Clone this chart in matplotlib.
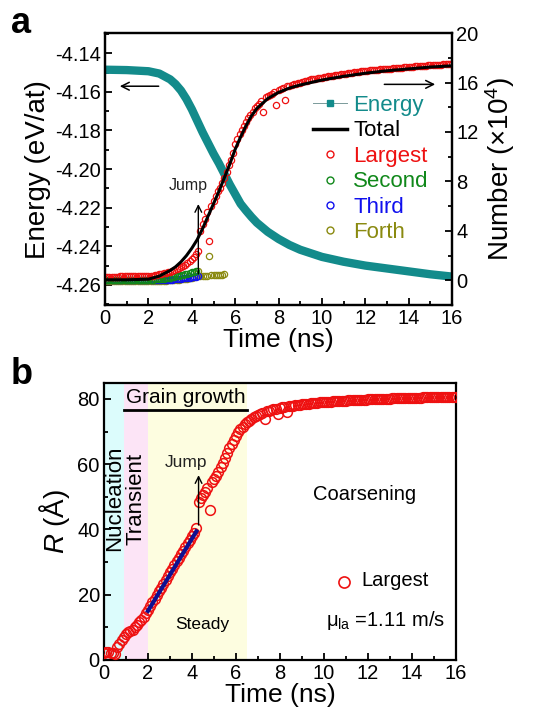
import numpy as np
import matplotlib
matplotlib.use('Agg')
import matplotlib.pyplot as plt
from matplotlib.lines import Line2D

plt.rcParams['font.family'] = ['Liberation Sans', 'DejaVu Sans']
plt.rcParams['mathtext.fontset'] = 'custom'
plt.rcParams['mathtext.rm'] = 'Liberation Sans'
plt.rcParams['mathtext.it'] = 'Liberation Sans:italic'

# ---------------- panel a data ----------------
# energy (eV/at), left axis
t_energy = [0, 1, 2, 2.5, 3, 3.25, 3.5, 3.75, 4, 4.25, 4.5, 4.75, 5, 5.25, 5.5, 5.75,
            6, 6.25, 6.5, 6.75, 7, 7.5, 8, 8.5, 9, 10, 11, 12, 13, 14, 15, 16]
energy = [-4.1485, -4.1487, -4.1493, -4.1505, -4.1535, -4.1560, -4.1593, -4.1637,
          -4.1690, -4.1750, -4.1810, -4.1865, -4.1920, -4.1970, -4.2025, -4.2080,
          -4.2130, -4.2180, -4.2215, -4.2248, -4.2278, -4.2325, -4.2362, -4.2393,
          -4.2418, -4.2455, -4.2480, -4.2500, -4.2515, -4.2530, -4.2545, -4.2557]

# total number of crystalline atoms (x1e4), right axis
t_total = [0, 1, 2, 2.5, 3, 3.25, 3.5, 3.75, 4, 4.25, 4.5, 4.75, 5, 5.25, 5.5, 5.75,
           6, 6.25, 6.5, 6.75, 7, 7.5, 8, 8.5, 9, 10, 11, 12, 13, 14, 15, 16]
total = [0.05, 0.05, 0.1, 0.35, 0.8, 1.1, 1.5, 2.0, 2.6, 3.3, 4.2, 5.2, 6.2, 7.2, 8.3,
         9.4, 10.6, 11.6, 12.5, 13.3, 13.9, 14.7, 15.2, 15.55, 15.8, 16.2, 16.5,
         16.75, 16.95, 17.1, 17.25, 17.35]

# largest grain (x1e4), sampled every 0.1 ns from 0 to 16 ns
t_grid = np.round(np.arange(0, 16.05, 0.1), 1)
largest_n = [
    0.30, 0.30, 0.30, 0.30, 0.31, 0.31, 0.31, 0.32, 0.32, 0.32,   # 0.0-0.9
    0.33, 0.33, 0.33, 0.33, 0.34, 0.34, 0.34, 0.34, 0.35, 0.35,   # 1.0-1.9
    0.35, 0.37, 0.39, 0.42, 0.45, 0.48, 0.52, 0.56, 0.61, 0.66,   # 2.0-2.9
    0.72, 0.78, 0.85, 0.92, 1.00, 1.08, 1.17, 1.27, 1.40, 1.55,   # 3.0-3.9
    1.70, 1.90, 2.10, 2.35, 4.00, 4.60, 5.00, 5.50, 3.20, 6.00,   # 4.0-4.9
    6.40, 6.80, 7.20, 7.50, 7.90, 8.30, 8.80, 9.30, 9.70, 10.3,   # 5.0-5.9
    11.0, 11.4, 11.8, 12.2, 12.5, 12.8, 13.1, 13.4, 13.6, 13.9,   # 6.0-6.9
    14.1, 14.3, 14.5, 13.6, 14.8, 14.9, 15.0, 15.1, 15.2, 14.2,   # 7.0-7.9
    15.4, 15.5, 15.55, 14.6, 15.7, 15.75, 15.8, 15.85, 15.9, 15.95,  # 8.0-8.9
    16.0, 16.05, 16.1, 16.15, 16.2, 16.25, 16.28, 16.32, 16.36, 16.4,  # 9.0-9.9
    16.4, 16.43, 16.46, 16.49, 16.52, 16.55, 16.58, 16.61, 16.64, 16.67,  # 10-10.9
    16.7, 16.72, 16.75, 16.77, 16.8, 16.82, 16.85, 16.87, 16.9, 16.92,  # 11-11.9
    16.95, 16.97, 16.98, 17.0, 17.02, 17.03, 17.05, 17.06, 17.08, 17.09,  # 12-12.9
    17.1, 17.12, 17.13, 17.15, 17.16, 17.18, 17.19, 17.21, 17.22, 17.24,  # 13-13.9
    17.25, 17.27, 17.28, 17.3, 17.31, 17.33, 17.34, 17.35, 17.37, 17.38,  # 14-14.9
    17.4, 17.41, 17.42, 17.43, 17.44, 17.45, 17.46, 17.47, 17.48, 17.49,  # 15-15.9
    17.5]

t_second = t_grid[:43]
second_n = [0.05] * 20 + [0.05, 0.06, 0.07, 0.08, 0.09, 0.10, 0.12, 0.14, 0.16, 0.19,
                          0.22, 0.25, 0.28, 0.32, 0.36, 0.40, 0.44, 0.49, 0.54, 0.60,
                          0.66, 0.72, 0.80]
t_third = t_grid[:44]
third_n = [0.0] * 25 + [0.01, 0.02, 0.03, 0.04, 0.05, 0.06, 0.07, 0.08, 0.10, 0.12,
                        0.14, 0.16, 0.18, 0.20, 0.22, 0.24, 0.27, 0.30, 0.35]
t_forth = list(t_grid[:44]) + [4.4, 4.5, 4.6, 4.7, 4.8, 4.9, 5.0, 5.1, 5.2, 5.3, 5.4, 5.5]
forth_n = [-0.05] * 25 + [-0.04, -0.03, -0.02, -0.01, 0.0, 0.01, 0.02, 0.03, 0.05, 0.07,
                          0.09, 0.11, 0.13, 0.15, 0.17, 0.2, 0.25, 0.5, 0.75] + \
          [0.35, 0.37, 0.38, 0.39, 2.0, 0.4, 0.41, 0.42, 0.44, 0.45, 0.47, 0.5]

# ---------------- panel b data ----------------
radius = [
    2.0, 2.3, 2.5, 2.2, 2.0, 1.8, 4.0, 5.0, 6.0, 7.0,             # 0.0-0.9
    7.8, 8.5, 8.8, 9.3, 10.0, 10.8, 11.5, 12.3, 13.2, 14.3,       # 1.0-1.9
    15.3, 16.5, 17.6, 18.7, 19.9, 21.0, 22.1, 23.3, 24.5, 25.6,   # 2.0-2.9
    26.8, 27.9, 29.0, 30.2, 31.3, 32.4, 33.5, 34.6, 35.7, 36.8,   # 3.0-3.9
    37.9, 39.0, 40.3, 48.5, 49.5, 50.5, 51.5, 52.8, 46.0, 54.5,   # 4.0-4.9
    55.5, 56.5, 57.6, 59.0, 60.5, 62.0, 63.5, 65.0, 66.2, 67.5,   # 5.0-5.9
    68.8, 69.8, 70.7, 71.5, 72.2, 72.8, 73.4, 73.9, 74.4, 74.8,   # 6.0-6.9
    75.2, 75.5, 75.8, 74.0, 76.2, 76.4, 76.6, 76.8, 77.0, 75.5,   # 7.0-7.9
    77.3, 77.4, 77.6, 76.0, 77.8, 77.9, 78.0, 78.1, 78.2, 78.3,   # 8.0-8.9
    78.4, 78.5, 78.5, 78.6, 78.7, 78.8, 78.8, 78.9, 79.0, 79.0,   # 9.0-9.9
    79.1, 79.1, 79.2, 79.2, 79.3, 79.3, 79.4, 79.4, 79.5, 79.5,   # 10-10.9
    79.5, 79.6, 79.6, 79.6, 79.7, 79.7, 79.7, 79.8, 79.8, 79.8,   # 11-11.9
    79.9, 79.9, 79.9, 80.0, 80.0, 80.0, 80.0, 80.1, 80.1, 80.1,   # 12-12.9
    80.1, 80.2, 80.2, 80.2, 80.2, 80.3, 80.3, 80.3, 80.3, 80.3,   # 13-13.9
    80.4, 80.4, 80.4, 80.4, 80.4, 80.5, 80.5, 80.5, 80.5, 80.5,   # 14-14.9
    80.5, 80.6, 80.6, 80.6, 80.6, 80.6, 80.6, 80.7, 80.7, 80.7,   # 15-15.9
    80.7]
fit_t = [2.0, 4.2]
fit_r = [15.0, 39.4]

teal = '#138b8b'
spine_w = 1.6
tick_fs = 14.5

fig = plt.figure(figsize=(5.56, 7.18), dpi=100)


def style_ax(ax, right=False):
    for s in ax.spines.values():
        s.set_linewidth(spine_w)
    ax.tick_params(which='both', direction='in', width=1.3, labelsize=tick_fs,
                   top=False, right=right, pad=3)
    ax.tick_params(which='major', length=5)
    ax.tick_params(which='minor', length=3)


# ================= panel a =================
ax1 = fig.add_axes([0.189, 0.575, 0.624, 0.379])
ax1.plot(t_energy, energy, color=teal, lw=6, solid_capstyle='butt')
ax1.set_xlim(0, 16)
ax1.set_ylim(-4.2705, -4.1295)
ax1.set_yticks([-4.14, -4.16, -4.18, -4.20, -4.22, -4.24, -4.26])
ax1.set_yticklabels(['-4.14', '-4.16', '-4.18', '-4.20', '-4.22', '-4.24', '-4.26'])
ax1.set_yticks(np.arange(-4.27, -4.129, 0.01), minor=True)
ax1.set_xticks(range(0, 17, 2))
ax1.set_xticks(range(0, 17), minor=True)
ax1.set_xlabel('Time (ns)', fontsize=19, labelpad=0)
ax1.set_ylabel('Energy (eV/at)', fontsize=20, labelpad=3)
style_ax(ax1)
ax1.tick_params(axis='y', which='both', right=False)

ax2 = ax1.twinx()
ax2.plot(t_forth, forth_n, 'o', mfc='none', mec='#8a8a10', ms=4.5, mew=0.9)
ax2.plot(t_third, third_n, 'o', mfc='none', mec='#1010ee', ms=4.5, mew=0.9)
ax2.plot(t_second, second_n, 'o', mfc='none', mec='#10881a', ms=4.5, mew=0.9)
ax2.plot(t_grid, largest_n, 'o', mfc='none', mec='#ee1111', ms=4.5, mew=0.9)
ax2.plot(t_total, total, color='black', lw=2.2)
ax2.set_ylim(-2, 20)
ax2.set_yticks(range(0, 21, 4))
ax2.set_yticks(range(-2, 21, 2), minor=True)
ax2.set_ylabel('Number (×10$^4$)', fontsize=20, labelpad=3)
style_ax(ax2, right=True)
ax2.tick_params(axis='y', which='both', left=False, right=True)

# direction arrows
ax2.annotate('', xy=(0.55, 15.7), xytext=(2.6, 15.7),
             arrowprops=dict(arrowstyle='->', lw=1.1, color='black', mutation_scale=14))
ax2.annotate('', xy=(15.35, 15.85), xytext=(12.75, 15.85),
             arrowprops=dict(arrowstyle='->', lw=1.1, color='black', mutation_scale=14))
ax2.annotate('', xy=(4.3, 6.4), xytext=(4.3, 0.3),
             arrowprops=dict(arrowstyle='->', lw=1.0, color='black', mutation_scale=12))
ax2.text(3.85, 7.7, 'Jump', fontsize=11.5, ha='center', va='center', color='#222222')

handles = [
    Line2D([], [], color='#7a9a9a', lw=0.7, marker='s', ms=4, mfc=teal, mec=teal),
    Line2D([], [], color='black', lw=2.5),
    Line2D([], [], ls='none', marker='o', mfc='none', mec='#ee1111', ms=5),
    Line2D([], [], ls='none', marker='o', mfc='none', mec='#10881a', ms=5),
    Line2D([], [], ls='none', marker='o', mfc='none', mec='#1010ee', ms=5),
    Line2D([], [], ls='none', marker='o', mfc='none', mec='#8a8a10', ms=5),
]
labels = ['Energy', 'Total', 'Largest', 'Second', 'Third', 'Forth']
ax2.legend(handles, labels, loc='upper left', bbox_to_anchor=(0.575, 0.805),
           frameon=False, fontsize=16, handlelength=1.5, handletextpad=0.3,
           labelspacing=0.2, borderaxespad=0,
           labelcolor=[teal, 'black', '#ee1111', '#10881a', '#1010ee', '#8a8a10'])

fig.text(0.02, 0.967, 'a', fontsize=26, fontweight='bold', va='center')

# ================= panel b =================
ax3 = fig.add_axes([0.187, 0.081, 0.633, 0.386])
ax3.axvspan(0, 0.9, color='#dcfcfc', lw=0)
ax3.axvspan(0.9, 2.0, color='#fce4f6', lw=0)
ax3.axvspan(2.0, 6.5, color='#fdfde0', lw=0)
ax3.plot(t_grid, radius, 'o', mfc='none', mec='#ee1111', ms=7, mew=1.1, zorder=3)
ax3.plot(fit_t, fit_r, color='#101090', lw=3, zorder=4)
ax3.set_xlim(0, 16)
ax3.set_ylim(0, 85)
ax3.set_xticks(range(0, 17, 2))
ax3.set_xticks(range(0, 17), minor=True)
ax3.set_yticks(range(0, 81, 20))
ax3.set_yticks(range(0, 81, 10), minor=True)
ax3.set_xlabel('Time (ns)', fontsize=19, labelpad=0)
ax3.set_ylabel('$R$ (Å)', fontsize=20, labelpad=4)
style_ax(ax3)

ax3.plot([0.9, 6.48], [76.7, 76.7], color='black', lw=2)
ax3.text(3.7, 80.4, 'Grain growth', fontsize=15, ha='center', va='center')
ax3.text(0.48, 49.5, 'Nucleation', fontsize=16, rotation=90, ha='center', va='center')
ax3.text(1.47, 49.5, 'Transient', fontsize=16, rotation=90, ha='center', va='center')
ax3.text(4.45, 10.9, 'Steady', fontsize=12.5, ha='center', va='center')
ax3.text(11.85, 50.6, 'Coarsening', fontsize=14.5, ha='center', va='center')
ax3.annotate('', xy=(4.3, 57.5), xytext=(4.3, 40.5),
             arrowprops=dict(arrowstyle='->', lw=1.0, color='black', mutation_scale=12))
ax3.text(3.75, 60.5, 'Jump', fontsize=12.5, ha='center', va='center', color='#222222')
ax3.plot([10.9], [23.9], 'o', mfc='none', mec='#ee1111', ms=8, mew=1.2)
ax3.text(11.7, 24.2, 'Largest', fontsize=14.5, ha='left', va='center')
ax3.text(10.1, 12.0, r'$\mathregular{\mu_{la}}$ =1.11 m/s', fontsize=14.5, ha='left', va='center')

fig.text(0.02, 0.478, 'b', fontsize=26, fontweight='bold', va='center')

fig.savefig('out.png', dpi=100)
